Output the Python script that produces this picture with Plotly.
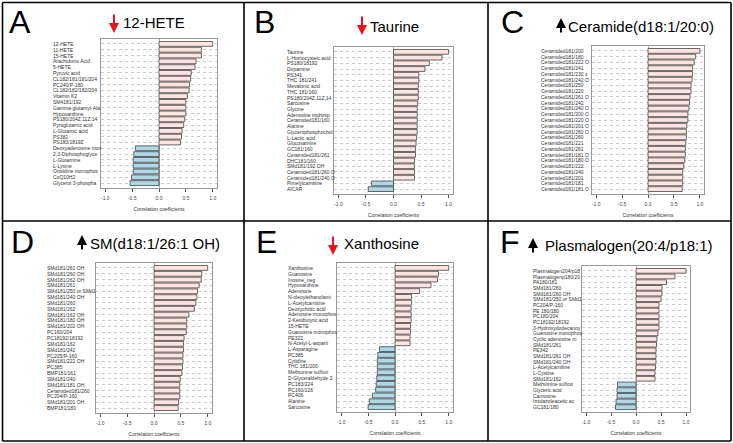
import plotly.graph_objects as go

W, H = 733, 443

# ---- data ----
labels_a = ["12-HETE", "11-HETE", "15-HETE", "Arachidonic Acid", "5-HETE", "Pyruvic acid",
            "CL182/181/181/204", "PC240/P-180", "CL182/182/182/204", "Vitamin K2", "SM4181/192",
            "Gamma-glutamyl-Ala", "Hypoxanthine", "PS180/204Z,11Z,14", "Pyroglutamic acid",
            "L-Glutamic acid", "PS382", "PS180/1819Z", "Deoxyadenosine mon", "2,3-Diphosphoglyce",
            "L-Glutamine", "L-Lysine", "Orotidine monophos", "CoQ10H2", "Glycerol 3-phospha"]
values_a = [1.0, 0.79, 0.79, 0.69, 0.67, 0.60, 0.59, 0.57, 0.56, 0.53, 0.50, 0.50, 0.50, 0.48,
            0.46, 0.43, 0.42, 0.40, -0.44, -0.47, -0.48, -0.48, -0.48, -0.51, -0.54]

labels_b = ["Taurine", "L-Homocysteic acid", "PS180/18192", "Dopamine", "PS341", "THC 181/241",
            "Mevalonic acid", "THC 181/160", "PS180/204Z,11Z,14", "Sarcosine", "Glycine",
            "Adenosine triphosp", "Ceramided181/160", "Alanine", "Glycerophosphochol",
            "L-Lactic acid", "Glucosamine", "GC181/160", "Ceramided181/261", "DHC181/160",
            "SMd181/192 OH", "Ceramided181/260 O", "Ceramided181/240 O", "Pimelylcarnitine", "AICAR"]
values_b = [1.0, 0.88, 0.65, 0.57, 0.46, 0.46, 0.45, 0.45, 0.45, 0.44, 0.43, 0.43, 0.43, 0.43,
            0.43, 0.42, 0.41, 0.40, 0.40, 0.38, 0.38, 0.38, 0.38, -0.40, -0.46]

labels_c = ["Ceramided181/200", "Ceramided181/180", "Ceramided181/222 O", "Ceramided181/241",
            "Ceramided181/230 x", "Ceramided181/242 O", "Ceramided181/250", "Ceramided181/220",
            "Ceramided181/261 O", "Ceramided181/242", "Ceramided181/240 O", "Ceramided181/200 O",
            "Ceramided181/220 O", "Ceramided181/201 O", "Ceramided181/260 O", "Ceramided181/260",
            "Ceramided181/221", "Ceramided181/261", "Ceramided181/181 O", "Ceramided181/180 O",
            "Ceramided181/222", "Ceramided181/240", "Ceramided181/201", "Ceramided181/181",
            "Ceramided181/181 O"]
values_c = [1.0, 0.92, 0.89, 0.86, 0.86, 0.85, 0.83, 0.83, 0.81, 0.80, 0.79, 0.77, 0.77, 0.75,
            0.74, 0.74, 0.73, 0.72, 0.72, 0.71, 0.69, 0.67, 0.67, 0.67, 0.66]

labels_d = ["SMd181/261 OH", "SMd181/260 OH", "SMd181/262 OH", "SMd181/261", "SMd181/250 or SMd1",
            "SMd181/240 OH", "SMd181/260", "SMd181/262", "SMd181/162 OH", "SMd181/180 OH",
            "SMd181/202 OH", "PC160/204", "PC18192/18192", "SMd181/162", "SMd181/242",
            "PC205/P-160", "SMd181/222 OH", "PC385", "BMP181/161", "SMd181/240", "SMd181/181 OH",
            "Ceramided181/260", "PC204/P-160", "SMd181/201 OH", "BMP181/180"]
values_d = [1.0, 0.89, 0.88, 0.84, 0.81, 0.80, 0.78, 0.75, 0.65, 0.61, 0.61, 0.60, 0.56, 0.55,
            0.55, 0.54, 0.54, 0.53, 0.52, 0.49, 0.48, 0.48, 0.48, 0.46, 0.45]

labels_e = ["Xanthosine", "Guanosine", "Inosine_neg", "Hypoxanthine", "Adenosine",
            "N-oleoylethanolami", "L-Acetylcarnitine", "Deoxycholic acid", "Adenosine monophos",
            "2-Ketobutyric acid", "15-HETE", "Guanosine monophos", "PE322", "N-Acetyl-L-asparti",
            "L-Asparagine", "PC385", "Cytidine", "THC 181/200", "Methionine sulfoxi",
            "D-Glyceraldehyde 3", "PC183/224", "PC160/226", "PC406", "Alanine", "Sarcosine"]
values_e = [1.0, 0.81, 0.79, 0.67, 0.46, 0.31, 0.31, 0.30, 0.30, 0.30, 0.29, 0.29, 0.28, 0.28,
            -0.29, -0.32, -0.33, -0.33, -0.33, -0.34, -0.35, -0.36, -0.42, -0.48, -0.50]

labels_f = ["Plasmalogen204/p18", "Plasmalogenp180/20", "PA180/181", "SMd181/260", "SMd181/260 OH",
            "SMd181/250 or SMd1", "PC204/P-160", "PE 180/180", "PC180/204", "PC18192/18192",
            "3-Hydroxydodecanoy", "Guanosine monophos", "Cyclic adenosine m", "SMd181/261", "PE342",
            "SMd181/261 OH", "SMd181/240 OH", "L-Acetylcarnitine", "L-Cystine", "SMd181/162",
            "Methionine sulfoxi", "Glyceric acid", "Carnosine", "Imidazoleacetic ac", "GC181/180"]
values_f = [1.0, 0.78, 0.61, 0.52, 0.52, 0.50, 0.46, 0.46, 0.46, 0.46, 0.46, 0.44, 0.42, 0.41,
            0.40, 0.40, 0.40, 0.39, 0.38, 0.38, -0.37, -0.38, -0.38, -0.40, -0.41]

letters = ["A", "B", "C", "D", "E", "F"]
titles = ["12-HETE", "Taurine", "Ceramide(d18:1/20:0)", "SM(d18:1/26:1 OH)", "Xanthosine",
          "Plasmalogen(20:4/p18:1)"]
trend = ["down", "down", "up", "up", "down", "up"]
all_labels = [labels_a, labels_b, labels_c, labels_d, labels_e, labels_f]
all_values = [values_a, values_b, values_c, values_d, values_e, values_f]
tick_vals = [-1.0, -0.5, 0.0, 0.5, 1.0]
tick_text = ["-1.0", "-0.5", "0.0", "0.5", "1.0"]

# ---- layout in pixels ----
plot_box = [(101, 217, 39, 188), (334, 453, 47, 194), (592, 704, 46, 194),
            (96, 212, 263, 413), (337, 453, 263, 412), (582, 690, 266, 412)]
label_x = [51, 285, 539, 45, 286, 531]
letter_pos = [(7, 22), (252, 22), (499, 22), (9, 242), (254, 242), (498, 242)]
arrow_pos = [(114, 33), (362, 35), (561, 18), (82, 235), (333, 255), (533, 238)]
title_pos = [(121, 22), (368, 27), (566, 26), (88, 243), (342, 243), (543, 245)]

FONT = "Liberation Sans, Arial, sans-serif"
PINK = "#FFE4E1"
BLUE = "#ADD8E6"


def px(x):
    return x / W


def py(y):
    return 1 - y / H


fig = go.Figure()
annotations = []

for i in range(6):
    n = str(i + 1) if i else ""
    labels, values = all_labels[i], all_values[i]
    rows = list(range(len(labels)))
    fig.add_trace(go.Bar(
        x=values, y=rows, orientation="h",
        marker=dict(color=[PINK if v > 0 else BLUE for v in values],
                    line=dict(color="#444444", width=0.8)),
        xaxis="x" + n, yaxis="y" + n, showlegend=False,
    ))
    x0, x1, y0, y1 = plot_box[i]
    fig.update_layout(**{
        "xaxis" + n: dict(
            domain=[px(x0), px(x1)], anchor="y" + n, range=[-1.08, 1.08],
            tickvals=tick_vals, ticktext=tick_text, ticks="outside", ticklen=3,
            tickcolor="#555555", tickwidth=0.8, ticklabelstandoff=2,
            tickfont=dict(size=5, color="#444444", family=FONT),
            showgrid=False, zeroline=True, zerolinecolor="#aaaaaa", zerolinewidth=0.8,
            showline=True, linecolor="#999999", linewidth=1, mirror=True,
            title=dict(text="Correlation coefficients", standoff=7,
                       font=dict(size=5, color="#333333", family=FONT)),
            automargin=False, fixedrange=True,
        ),
        "yaxis" + n: dict(
            domain=[py(y1), py(y0)], anchor="x" + n, range=[len(labels) - 0.15, -0.85],
            tickvals=rows, showticklabels=False, ticks="",
            showgrid=True, gridcolor="#cccccc", griddash="dot", gridwidth=0.6,
            zeroline=False, showline=True, linecolor="#999999", linewidth=1, mirror=True,
            automargin=False, fixedrange=True,
        ),
    })
    for r, lab in enumerate(labels):
        annotations.append(dict(
            text=lab, xref="paper", x=px(label_x[i]), xanchor="left",
            yref="y" + n, y=r, yanchor="middle", showarrow=False,
            font=dict(size=5, color="#333333", family=FONT),
        ))
    lx, ly = letter_pos[i]
    annotations.append(dict(
        text=letters[i], xref="paper", yref="paper", x=px(lx), y=py(ly),
        xanchor="left", yanchor="middle", showarrow=False,
        font=dict(size=32, color="black", family=FONT),
    ))
    tx, ty = title_pos[i]
    annotations.append(dict(
        text=titles[i], xref="paper", yref="paper", x=px(tx), y=py(ty),
        xanchor="left", yanchor="middle", showarrow=False,
        font=dict(size=15, color="black", family=FONT),
    ))
    ax_, ay_ = arrow_pos[i]
    down = trend[i] == "down"
    annotations.append(dict(
        text="", xref="paper", yref="paper", x=px(ax_), y=py(ay_),
        showarrow=True, arrowhead=2, arrowsize=1, arrowwidth=2,
        arrowcolor="#e8141b" if down else "black",
        ax=0, ay=-20 if down else 16,
    ))

# panel frame lines
shapes = []
for gx in [2.5, 244, 488, 731]:
    shapes.append(dict(type="line", xref="paper", yref="paper", x0=px(gx), x1=px(gx),
                       y0=py(2.5), y1=py(441), line=dict(color="black", width=1.6)))
for gy in [2.5, 221, 441]:
    shapes.append(dict(type="line", xref="paper", yref="paper", x0=px(2.5), x1=px(731),
                       y0=py(gy), y1=py(gy), line=dict(color="black", width=1.6)))

fig.update_layout(
    width=W, height=H, margin=dict(l=0, r=0, t=0, b=0),
    paper_bgcolor="white", plot_bgcolor="white",
    bargap=0.17, annotations=annotations, shapes=shapes,
    font=dict(family=FONT),
)

# page body has a default 8px margin; drop it so the figure fills the window
fig.write_html("out.html", config={"displayModeBar": False},
               post_script="document.body.style.margin = '0';")
